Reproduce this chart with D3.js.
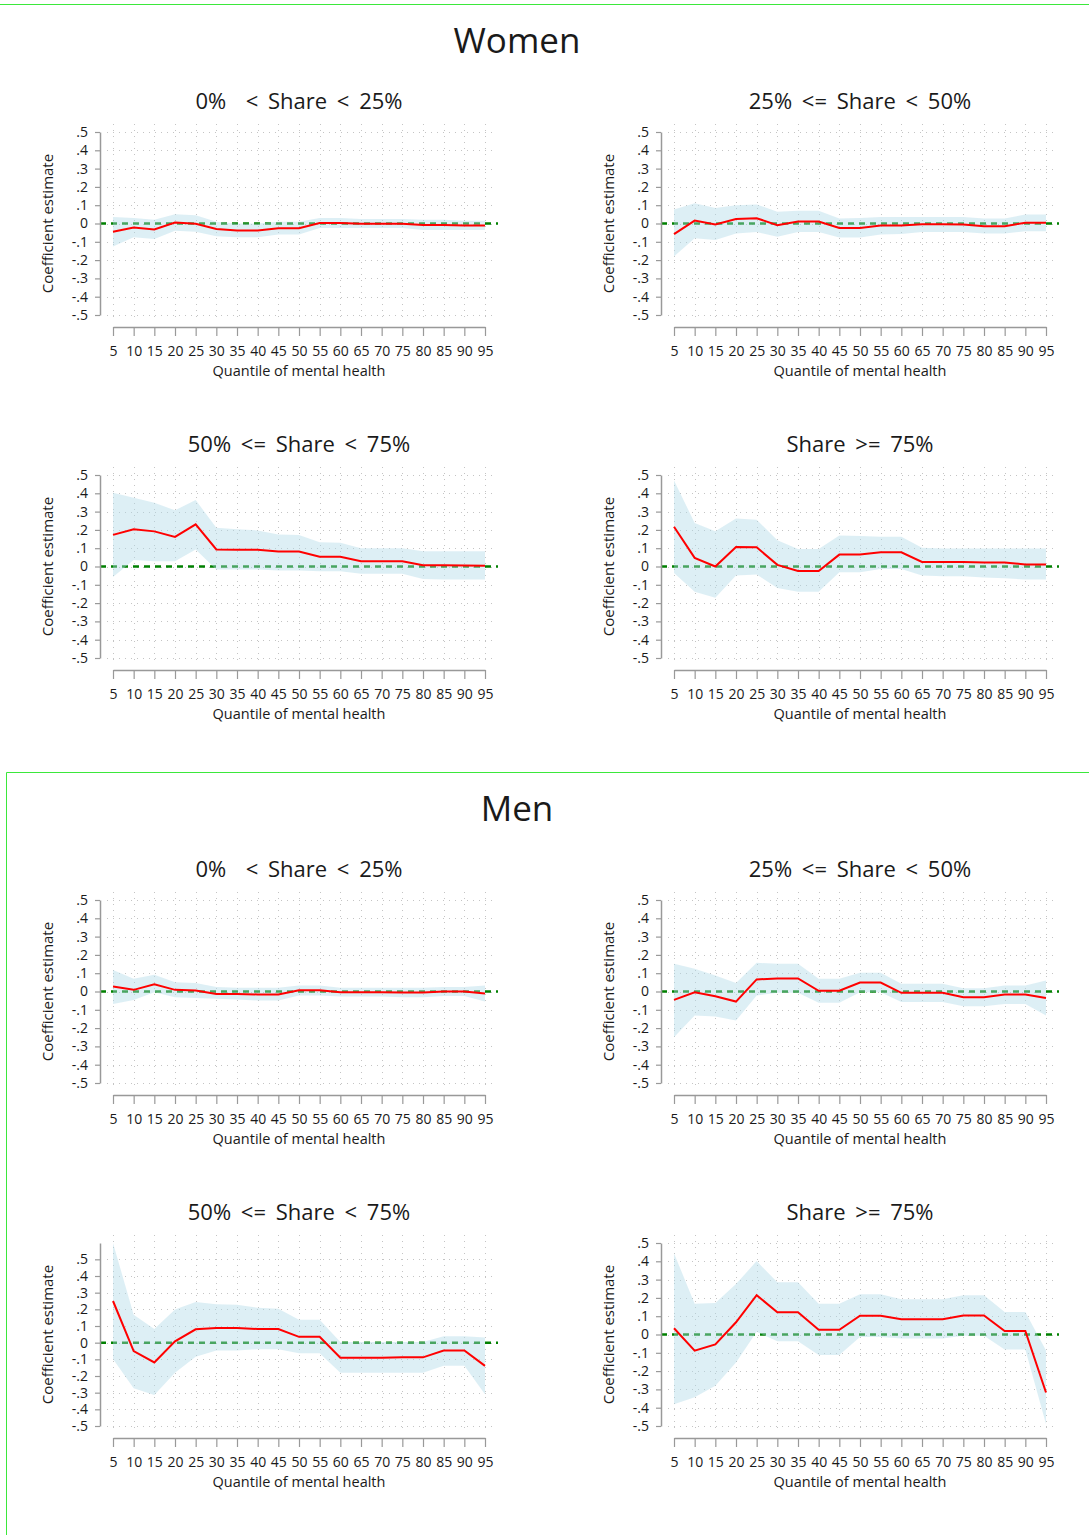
<!DOCTYPE html>
<html lang="en">
  <head>
    <meta charset="UTF-8">
    <title>Quantile coefficients by share</title>
    <style>
      body { margin: 0; background: #fff; }
      svg text { font-family: "Open Sans", "Noto Sans", sans-serif; fill: #1a1a1a; }
    </style>
  </head>
  <body>
    <div id="data_viz_area"></div>
    <script src="https://d3js.org/d3.v7.js"></script>
    <script>
    // quantiles on the x axis
    var quantiles = [5, 10, 15, 20, 25, 30, 35, 40, 45, 50, 55, 60, 65, 70, 75, 80, 85, 90, 95];
    var yTickValues = [0.5, 0.4, 0.3, 0.2, 0.1, 0, -0.1, -0.2, -0.3, -0.4, -0.5];
    var yTickLabels = [".5", ".4", ".3", ".2", ".1", "0", "-.1", "-.2", "-.3", "-.4", "-.5"];
    var panelTitles = ["0%  < Share < 25%", "25% <= Share < 50%", "50% <= Share < 75%", "Share >= 75%"];
    var sections = ["Women", "Men"];

    // Women, 0% < share < 25%
    var w1Coef = [-0.045, -0.022, -0.033, 0.005, -0.002, -0.03, -0.038, -0.038, -0.026, -0.026, 0.003, 0.003, -0.002, -0.002, -0.002, -0.008, -0.008, -0.011, -0.011];
    var w1Lo = [-0.125, -0.075, -0.085, -0.04, -0.045, -0.07, -0.075, -0.075, -0.06, -0.06, -0.025, -0.025, -0.025, -0.025, -0.025, -0.035, -0.035, -0.035, -0.035];
    var w1Hi = [0.035, 0.03, 0.02, 0.05, 0.045, 0.01, 0.0, 0.0, 0.01, 0.01, 0.03, 0.03, 0.025, 0.025, 0.025, 0.02, 0.02, 0.015, 0.015];

    // Women, 25% <= share < 50%
    var w2Coef = [-0.058, 0.016, -0.005, 0.024, 0.029, -0.009, 0.011, 0.011, -0.025, -0.025, -0.011, -0.011, -0.004, -0.004, -0.005, -0.015, -0.015, 0.004, 0.004];
    var w2Lo = [-0.18, -0.08, -0.09, -0.055, -0.047, -0.072, -0.047, -0.047, -0.076, -0.076, -0.06, -0.058, -0.047, -0.047, -0.047, -0.055, -0.055, -0.042, -0.042];
    var w2Hi = [0.076, 0.11, 0.085, 0.1, 0.104, 0.064, 0.069, 0.069, 0.027, 0.03, 0.036, 0.036, 0.036, 0.036, 0.036, 0.027, 0.027, 0.049, 0.049];

    // Women, 50% <= share < 75%
    var w3Coef = [0.173, 0.204, 0.192, 0.162, 0.23, 0.093, 0.091, 0.091, 0.082, 0.082, 0.053, 0.053, 0.029, 0.029, 0.029, 0.007, 0.007, 0.005, 0.004];
    var w3Lo = [-0.057, 0.035, 0.029, 0.029, 0.093, -0.016, -0.016, -0.016, -0.022, -0.022, -0.026, -0.026, -0.04, -0.04, -0.04, -0.068, -0.071, -0.071, -0.071];
    var w3Hi = [0.403, 0.376, 0.349, 0.307, 0.363, 0.212, 0.203, 0.197, 0.175, 0.172, 0.133, 0.13, 0.1, 0.1, 0.1, 0.084, 0.084, 0.084, 0.084];

    // Women, share >= 75%
    var w4Coef = [0.217, 0.047, 0.0, 0.107, 0.105, 0.009, -0.025, -0.025, 0.065, 0.065, 0.078, 0.078, 0.025, 0.025, 0.025, 0.022, 0.022, 0.011, 0.011];
    var w4Lo = [-0.035, -0.138, -0.171, -0.049, -0.044, -0.118, -0.138, -0.138, -0.031, -0.031, -0.013, -0.013, -0.049, -0.053, -0.053, -0.06, -0.064, -0.071, -0.071];
    var w4Hi = [0.47, 0.238, 0.193, 0.262, 0.256, 0.144, 0.096, 0.096, 0.169, 0.166, 0.162, 0.162, 0.102, 0.098, 0.098, 0.098, 0.098, 0.098, 0.098];

    // Men, 0% < share < 25%
    var m1Coef = [0.027, 0.009, 0.04, 0.009, 0.005, -0.013, -0.013, -0.016, -0.016, 0.007, 0.007, -0.004, -0.004, -0.004, -0.005, -0.005, 0.0, 0.0, -0.011];
    var m1Lo = [-0.068, -0.046, -0.004, -0.031, -0.035, -0.04, -0.044, -0.049, -0.049, -0.022, -0.022, -0.027, -0.027, -0.027, -0.031, -0.031, -0.025, -0.025, -0.055];
    var m1Hi = [0.118, 0.069, 0.091, 0.051, 0.046, 0.024, 0.02, 0.02, 0.02, 0.033, 0.033, 0.02, 0.02, 0.02, 0.02, 0.02, 0.024, 0.024, 0.033];

    // Men, 25% <= share < 50%
    var m2Coef = [-0.046, -0.004, -0.026, -0.055, 0.066, 0.071, 0.071, 0.004, 0.004, 0.049, 0.049, -0.007, -0.007, -0.007, -0.031, -0.031, -0.016, -0.016, -0.036];
    var m2Lo = [-0.25, -0.131, -0.137, -0.159, -0.022, -0.007, -0.007, -0.062, -0.062, -0.004, -0.004, -0.058, -0.058, -0.058, -0.08, -0.08, -0.068, -0.068, -0.131];
    var m2Hi = [0.151, 0.124, 0.088, 0.046, 0.157, 0.151, 0.151, 0.069, 0.069, 0.102, 0.102, 0.042, 0.042, 0.042, 0.018, 0.018, 0.033, 0.033, 0.06];

    // Men, 50% <= share < 75%
    var m3Coef = [0.25, -0.051, -0.119, 0.008, 0.08, 0.088, 0.088, 0.082, 0.082, 0.035, 0.035, -0.09, -0.09, -0.09, -0.088, -0.088, -0.047, -0.047, -0.139];
    var m3Lo = [-0.098, -0.273, -0.314, -0.18, -0.084, -0.047, -0.047, -0.039, -0.039, -0.064, -0.064, -0.18, -0.18, -0.18, -0.18, -0.18, -0.139, -0.139, -0.309];
    var m3Hi = [0.598, 0.168, 0.082, 0.199, 0.244, 0.23, 0.227, 0.209, 0.203, 0.137, 0.137, 0.004, 0.004, 0.004, 0.004, 0.004, 0.039, 0.039, 0.031];

    // Men, share >= 75%
    var m4Coef = [0.034, -0.088, -0.054, 0.067, 0.215, 0.121, 0.121, 0.026, 0.026, 0.103, 0.103, 0.084, 0.084, 0.084, 0.104, 0.104, 0.019, 0.019, -0.317];
    var m4Lo = [-0.381, -0.343, -0.28, -0.153, 0.015, -0.037, -0.037, -0.112, -0.112, -0.013, -0.013, -0.022, -0.022, -0.022, -0.007, -0.007, -0.082, -0.082, -0.489];
    var m4Hi = [0.444, 0.168, 0.172, 0.276, 0.401, 0.285, 0.285, 0.168, 0.168, 0.22, 0.22, 0.192, 0.192, 0.192, 0.215, 0.215, 0.123, 0.123, -0.088];

    var seriesBySection = {
      Women: [[w1Coef, w1Lo, w1Hi], [w2Coef, w2Lo, w2Hi], [w3Coef, w3Lo, w3Hi], [w4Coef, w4Lo, w4Hi]],
      Men: [[m1Coef, m1Lo, m1Hi], [m2Coef, m2Lo, m2Hi], [m3Coef, m3Lo, m3Hi], [m4Coef, m4Lo, m4Hi]]
    };

    var W = 1089, H = 1535;
    var svg = d3.select("#data_viz_area").append("svg")
        .attr("width", W)
        .attr("height", H);

    // layout
    var sectionOffset = 768;
    var rowTop = [132, 475];
    var colAxisX = [100, 661];
    var plotH = 183;
    var plotW = 372;
    var frameColor = "#3be83b";

    // green frame lines
    svg.append("line").attr("x1", 0).attr("x2", W).attr("y1", 4.5).attr("y2", 4.5)
      .attr("stroke", frameColor).attr("stroke-width", 1);
    svg.append("line").attr("x1", 6.5).attr("x2", W).attr("y1", 772.5).attr("y2", 772.5)
      .attr("stroke", frameColor).attr("stroke-width", 1);
    svg.append("line").attr("x1", 6.5).attr("x2", 6.5).attr("y1", 772.5).attr("y2", H)
      .attr("stroke", frameColor).attr("stroke-width", 1);

    sections.forEach(function(name, si) {
      var off = si * sectionOffset;
      svg.append("text")
        .attr("x", 517).attr("y", off + 53)
        .attr("text-anchor", "middle")
        .style("font-size", "35px")
        .text(name);

      seriesBySection[name].forEach(function(s, pi) {
        var row = Math.floor(pi / 2), col = pi % 2;
        drawPanel(off + rowTop[row], colAxisX[col], panelTitles[pi], s[0], s[1], s[2]);
      });
    });

    function drawPanel(top, axisX, title, coef, lo, hi) {
      var left = axisX + 13;
      var yMax = Math.max(0.5, d3.max(hi));
      var yMin = Math.min(-0.5, d3.min(lo));

      var x = d3.scaleLinear().domain([5, 95]).range([left, left + plotW]);
      var y = d3.scaleLinear().domain([yMin, yMax]).range([top + plotH, top]);

      var g = svg.append("g");
      var data = quantiles.map(function(q, i) { return {q: q, b: coef[i], lo: lo[i], hi: hi[i]}; });

      // title
      g.append("text")
        .attr("x", left + plotW / 2).attr("y", top - 23)
        .attr("text-anchor", "middle")
        .style("font-size", "22px")
        .style("word-spacing", "4px")
        .style("white-space", "pre")
        .text(title);

      // dotted grid
      g.selectAll(".vgrid").data(quantiles).enter().append("line")
        .attr("x1", function(d){ return Math.round(x(d)) + 0.5; })
        .attr("x2", function(d){ return Math.round(x(d)) + 0.5; })
        .attr("y1", top - 8).attr("y2", top + plotH + 7)
        .attr("stroke", "#c4c4c4").attr("stroke-dasharray", "1,5");
      g.selectAll(".hgrid").data(yTickValues).enter().append("line")
        .attr("x1", axisX + 7).attr("x2", left + plotW + 12)
        .attr("y1", function(d){ return Math.round(y(d)) + 0.5; })
        .attr("y2", function(d){ return Math.round(y(d)) + 0.5; })
        .attr("stroke", "#c4c4c4").attr("stroke-dasharray", "1,5");

      // zero reference line
      g.append("line")
        .attr("x1", axisX).attr("x2", left + plotW + 13)
        .attr("y1", y(0)).attr("y2", y(0))
        .attr("stroke", "#008000").attr("stroke-width", 2.5)
        .attr("stroke-dasharray", "6,5");

      // confidence band
      g.append("path")
        .datum(data)
        .attr("fill", "lightblue")
        .attr("fill-opacity", 0.42)
        .attr("d", d3.area()
          .x(function(d){ return x(d.q); })
          .y0(function(d){ return y(d.lo); })
          .y1(function(d){ return y(d.hi); }));

      // coefficient line
      g.append("path")
        .datum(data)
        .attr("fill", "none")
        .attr("stroke", "#ff0000")
        .attr("stroke-width", 2)
        .attr("d", d3.line()
          .x(function(d){ return x(d.q); })
          .y(function(d){ return y(d.b); }));

      // y axis
      var yAxis = g.append("g")
        .attr("transform", "translate(" + axisX + ",0)")
        .call(d3.axisLeft(y).tickValues(yTickValues)
          .tickFormat(function(d, i){ return yTickLabels[i]; })
          .tickSize(5).tickPadding(7).tickSizeOuter(0));
      yAxis.select(".domain").attr("stroke", "#999").attr("stroke-width", 1.5);
      yAxis.selectAll(".tick line").attr("stroke", "#999").attr("stroke-width", 1.2);
      yAxis.selectAll(".tick text").style("font-size", "14px").attr("fill", "#1a1a1a")
        .style("font-family", "'Open Sans', sans-serif");

      // x axis
      var axisY = top + plotH + 12;
      var xAxis = g.append("g")
        .attr("transform", "translate(0," + axisY + ")")
        .call(d3.axisBottom(x).tickValues(quantiles)
          .tickFormat(d3.format("d"))
          .tickSize(9).tickPadding(10).tickSizeOuter(0));
      xAxis.select(".domain").attr("stroke", "#999").attr("stroke-width", 1.5);
      xAxis.selectAll(".tick line").attr("stroke", "#999").attr("stroke-width", 1.2);
      xAxis.selectAll(".tick text").style("font-size", "14px").attr("fill", "#1a1a1a")
        .style("font-family", "'Open Sans', sans-serif");

      // axis titles
      g.append("text")
        .attr("x", left + plotW / 2).attr("y", axisY + 49)
        .attr("text-anchor", "middle")
        .style("font-size", "14.5px")
        .text("Quantile of mental health");
      g.append("text")
        .attr("transform", "translate(" + (axisX - 47) + "," + (top + plotH / 2) + ") rotate(-90)")
        .attr("text-anchor", "middle")
        .style("font-size", "15px")
        .text("Coefficient estimate");
    }
    </script>
  </body>
</html>
